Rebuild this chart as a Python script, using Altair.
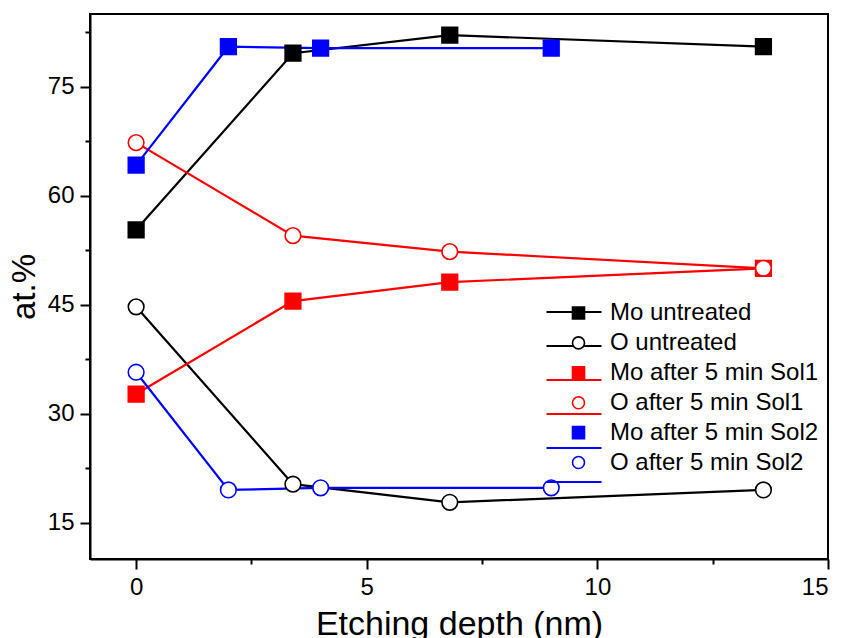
import altair as alt
import pandas as pd

# ---------------- data ----------------
series_names = [
    "Mo untreated",
    "O untreated",
    "Mo after 5 min Sol1",
    "O after 5 min Sol1",
    "Mo after 5 min Sol2",
    "O after 5 min Sol2",
]
series_colors = ["#000000", "#000000", "#ff0000", "#ff0000", "#0000ff", "#0000ff"]
series_fill = ["#000000", "#ffffff", "#ff0000", "#ffffff", "#0000ff", "#ffffff"]
series_element = ["Mo", "O", "Mo", "O", "Mo", "O"]

x_untreated = [0, 3.4, 6.8, 13.6]
x_sol1 = [0, 3.4, 6.8, 13.6]
x_sol2 = [0, 2, 4, 9]

mo_untreated = [55.3, 79.6, 82.1, 80.5]
o_untreated = [44.7, 20.3, 17.8, 19.5]
mo_sol1 = [32.7, 45.5, 48.1, 50.0]
o_sol1 = [67.3, 54.5, 52.3, 50.0]
mo_sol2 = [64.2, 80.5, 80.3, 80.3]
o_sol2 = [35.7, 19.5, 19.8, 19.8]

x_major = [0, 5, 10, 15]
x_minor = [2.5, 7.5, 12.5]
y_major = [15, 30, 45, 60, 75]
y_minor = [22.5, 37.5, 52.5, 67.5, 82.5]

series_x = [x_untreated, x_untreated, x_sol1, x_sol1, x_sol2, x_sol2]
series_y = [mo_untreated, o_untreated, mo_sol1, o_sol1, mo_sol2, o_sol2]

rows = []
for name, el, xs, ys in zip(series_names, series_element, series_x, series_y):
    for i, (xv, yv) in enumerate(zip(xs, ys)):
        rows.append({"series": name, "element": el, "x": xv, "y": yv, "order": i})
df = pd.DataFrame(rows)
df_pts = df.sort_values("element", kind="stable")  # circles drawn over squares

marker_shapes = ["square" if e == "Mo" else "circle" for e in series_element]

# ---------------- scales ----------------
FONT = "Liberation Sans"
xscale = alt.Scale(domain=[-1, 15], nice=False, zero=False)
yscale = alt.Scale(domain=[10, 85], nice=False, zero=False)
color_scale = alt.Scale(domain=series_names, range=series_colors)

major_x_axis = alt.Axis(
    values=x_major, title="Etching depth (nm)", tickSize=10, labelPadding=6,
    titlePadding=8, titleFontSize=34, labelFontSize=24, grid=False,
)
major_y_axis = alt.Axis(
    values=y_major, title="at.%", tickSize=10, labelPadding=6,
    titlePadding=6, titleFontSize=33, labelFontSize=24, grid=False,
)
minor_x_axis = alt.Axis(values=x_minor, title=None, labels=False, domain=False,
                        tickSize=5, grid=False, orient="bottom", offset=0)
minor_y_axis = alt.Axis(values=y_minor, title=None, labels=False, domain=False,
                        tickSize=5, grid=False, orient="left", offset=0)

# legend made of two stacked legends: line strokes underneath, markers + labels on top
line_legend = alt.Legend(
    title=None, orient="none", legendX=455, legendY=269,
    symbolSize=3025, symbolStrokeWidth=2.2,
    labelFont=FONT, labelFontSize=1, labelOpacity=0, labelLimit=400,
    labelOffset=2, rowPadding=0, zindex=0,
)
marker_legend = alt.Legend(
    title=None, orient="none", legendX=476.5, legendY=287,
    symbolSize=144, symbolStrokeWidth=1.6,
    labelFont=FONT, labelFontSize=24, labelColor="black", labelLimit=400,
    labelOffset=19.5, rowPadding=5.9, zindex=1,
)

lines = alt.Chart(df).mark_line(strokeWidth=2.2).encode(
    x=alt.X("x:Q", scale=xscale, axis=major_x_axis),
    y=alt.Y("y:Q", scale=yscale, axis=major_y_axis),
    color=alt.Color("series:N", scale=color_scale, legend=line_legend),
    order="order:Q",
)

points = alt.Chart(df_pts).mark_point(
    filled=False, size=245, strokeWidth=1.6, opacity=1
).encode(
    x=alt.X("x:Q", scale=xscale, axis=minor_x_axis),
    y=alt.Y("y:Q", scale=yscale, axis=minor_y_axis),
    shape=alt.Shape("series:N", scale=alt.Scale(domain=series_names, range=marker_shapes), legend=marker_legend),
    color=alt.Color("series:N", scale=color_scale, legend=marker_legend),
    fill=alt.Fill("series:N", scale=alt.Scale(domain=series_names, range=series_fill), legend=marker_legend),
)

chart = alt.layer(lines, points).resolve_axis(
    x="independent", y="independent"
).resolve_legend(
    color="independent", shape="independent", fill="independent"
).properties(
    width=738, height=545,
    autosize=alt.AutoSizeParams(type="none"),
    padding={"left": 82, "top": 6, "right": 9, "bottom": 79},
).configure_view(
    stroke="black", strokeWidth=2
).configure_axis(
    domainColor="black", domainWidth=2, tickColor="black", tickWidth=2,
    labelFont=FONT, labelColor="black", titleFont=FONT, titleColor="black",
    titleFontWeight="normal",
)

chart.save("out.html", embed_options={"renderer": "svg", "actions": False})
